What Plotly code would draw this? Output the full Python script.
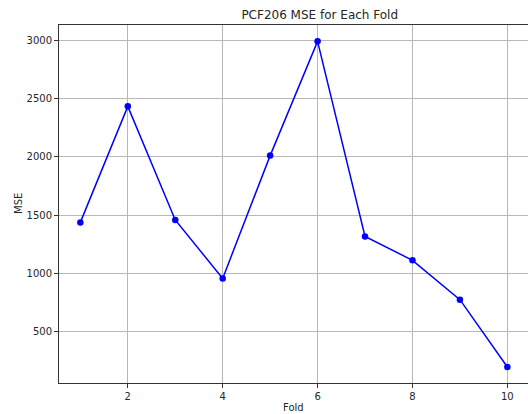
import plotly.graph_objects as go

folds = [1, 2, 3, 4, 5, 6, 7, 8, 9, 10]
mse = [1439, 2433, 1460, 959, 2011, 2990, 1319, 1114, 777, 200]
x_ticks = [2, 4, 6, 8, 10]
y_ticks = [500, 1000, 1500, 2000, 2500, 3000]

W, H = 528, 414
L, R, T, B = 59, 0, 25, 31

fig = go.Figure()
fig.add_trace(go.Scatter(
    x=folds, y=mse, mode="lines+markers",
    line=dict(color="#0000ff", width=1.5),
    marker=dict(color="#0000ff", size=6.5),
    showlegend=False,
))

font = dict(family="DejaVu Sans", size=10, color="#262626")
fig.update_layout(
    width=W, height=H,
    margin=dict(l=L, r=R, t=T, b=B),
    paper_bgcolor="white", plot_bgcolor="white",
    font=font,
    title=dict(text="PCF206 MSE for Each Fold", x=293.5 / W,
               xref="paper", xanchor="center", y=1 - 15 / H, yref="container", yanchor="middle",
               font=dict(family="DejaVu Sans", size=12, color="#262626")),
    xaxis=dict(range=[0.55, 10.435], tickvals=x_ticks, ticks="outside", ticklen=4, tickcolor="#333",
               showgrid=True, gridcolor="#b8b8b8", gridwidth=0.8, zeroline=False,
               showline=True, linecolor="#333", linewidth=1, mirror=True, tickfont=font),
    yaxis=dict(range=[63, 3130], tickvals=y_ticks, ticks="outside", ticklen=4, tickcolor="#333",
               showgrid=True, gridcolor="#b8b8b8", gridwidth=0.8, zeroline=False,
               showline=True, linecolor="#333", linewidth=1, mirror=False, tickfont=font),
    annotations=[
        dict(text="Fold", xref="paper", yref="paper", x=(293.5 - L) / (W - L - R), y=0,
             yshift=-(407 - (H - B)), showarrow=False, xanchor="center", yanchor="middle", font=font),
        dict(text="MSE", xref="paper", yref="paper", x=0, y=0.5, xshift=-(L - 18),
             textangle=-90, showarrow=False, xanchor="center", yanchor="middle", font=font),
    ],
)
fig.write_html("out.html", config={"displayModeBar": False},
               post_script="document.body.style.margin='0';document.body.style.overflow='hidden';")
